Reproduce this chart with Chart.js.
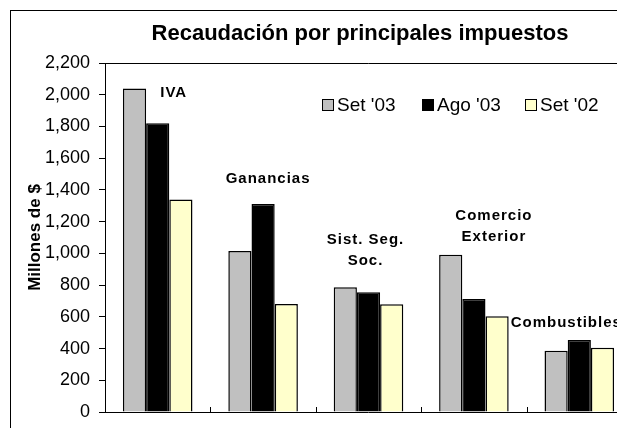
<!DOCTYPE html>
<html>
<head>
<meta charset="utf-8">
<script src="https://cdn.jsdelivr.net/npm/chart.js@4.4.0/dist/chart.umd.min.js"></script>
<style>
  html, body { margin: 0; padding: 0; background: #fff; overflow: hidden; }
  #wrap { width: 720px; height: 440px; }
</style>
</head>
<body>
<div id="wrap"><canvas id="myChart" width="720" height="440"></canvas></div>
<script>
const categories = ['IVA', ['Ganancias'], ['Sist. Seg.', 'Soc.'], ['Comercio', 'Exterior'], ['Combustibles']];
const set03 = [2040, 1015, 786, 992, 386];
const ago03 = [1820, 1311, 755, 712, 454];
const set02 = [1340, 681, 679, 603, 405];
const yTicks = { min: 0, max: 2200, step: 200 };

// where each category name sits: value of first line centre and x shift from category centre
const labelPlace = [
  { v: 2011, dx: 16 },
  { v: 1469, dx: 5 },
  { v: 1084, dx: -3 },
  { v: 1235, dx: 20 },
  { v: 561, dx: -13 }
];

const font = 'Arial, "Liberation Sans", sans-serif';

const decor = {
  id: 'decor',
  afterDraw(chart) {
    const ctx = chart.ctx;
    const a = chart.chartArea;
    const x = chart.scales.x;
    const y = chart.scales.y;
    ctx.save();
    ctx.strokeStyle = '#000';
    ctx.lineWidth = 1;
    // outer frame
    ctx.strokeRect(10.5, 10.5, 699, 480);
    // plot frame top and right, x axis line
    ctx.beginPath();
    ctx.moveTo(a.left, a.top + 0.5);
    ctx.lineTo(a.right + 0.5, a.top + 0.5);
    ctx.lineTo(a.right + 0.5, a.bottom);
    ctx.moveTo(a.left, a.bottom + 0.5);
    ctx.lineTo(a.right, a.bottom + 0.5);
    ctx.stroke();
    // category boundary ticks pointing up
    ctx.beginPath();
    const n = categories.length;
    for (let i = 1; i < n; i++) {
      const bx = Math.round((x.getPixelForValue(i - 1) + x.getPixelForValue(i)) / 2) + 0.5;
      ctx.moveTo(bx, a.bottom);
      ctx.lineTo(bx, a.bottom - 5);
    }
    ctx.stroke();

    // title
    ctx.fillStyle = '#000';
    ctx.textAlign = 'center';
    ctx.textBaseline = 'middle';
    ctx.font = 'bold 22px ' + font;
    ctx.fillText('Recaudación por principales impuestos', 360, 34);

    // category names
    ctx.font = 'bold 15px ' + font;
    ctx.letterSpacing = '1px';
    categories.forEach((c, i) => {
      const lines = Array.isArray(c) ? c : [c];
      const cx = x.getPixelForValue(i) + labelPlace[i].dx;
      const cy = y.getPixelForValue(labelPlace[i].v);
      lines.forEach((t, j) => ctx.fillText(t, cx, cy + j * 21));
    });
    ctx.letterSpacing = '0px';

    // legend inside plot
    ctx.font = '19px ' + font;
    ctx.textAlign = 'left';
    const lx = [a.left + 217, a.left + 317, a.left + 420];
    const ly = a.top + 42;
    chart.data.datasets.forEach((ds, i) => {
      ctx.fillStyle = ds.backgroundColor;
      ctx.fillRect(lx[i] + 0.5, ly - 5.5, 11, 11);
      ctx.strokeRect(lx[i] + 0.5, ly - 5.5, 11, 11);
      ctx.fillStyle = '#000';
      ctx.fillText(ds.label, lx[i] + 15, ly + 1);
    });
    ctx.restore();
  }
};

const data = {
  labels: categories.map(c => Array.isArray(c) ? c.join(' ') : c),
  datasets: [
    { label: "Set '03", data: set03, backgroundColor: '#C0C0C0' },
    { label: "Ago '03", data: ago03, backgroundColor: '#000000' },
    { label: "Set '02", data: set02, backgroundColor: '#FFFFCC' }
  ].map(d => Object.assign(d, {
    borderColor: '#000',
    borderWidth: 1.5,
    barPercentage: 1,
    categoryPercentage: 0.66
  }))
};

const config = {
  type: 'bar',
  data: data,
  options: {
    responsive: false,
    devicePixelRatio: 1,
    animation: false,
    layout: { padding: { left: 10, top: 63, right: 88, bottom: 28 } },
    plugins: {
      legend: { display: false },
      title: { display: false },
      tooltip: { enabled: false }
    },
    scales: {
      x: { display: false },
      y: {
        min: yTicks.min,
        max: yTicks.max,
        afterFit(s) { s.width = 95; },
        ticks: {
          stepSize: yTicks.step,
          padding: 9,
          color: '#000',
          font: { family: font, size: 18 },
          callback: v => v.toLocaleString('en-US')
        },
        grid: { drawOnChartArea: false, tickLength: 6, color: '#000' },
        border: { color: '#000', width: 1 },
        title: {
          display: true,
          text: 'Millones de $',
          color: '#000',
          font: { family: font, size: 17, weight: 'bold' },
          padding: { top: 15, bottom: 0 }
        }
      }
    }
  },
  plugins: [decor]
};

const myChart = new Chart(document.getElementById('myChart'), config);
</script>
</body>
</html>
